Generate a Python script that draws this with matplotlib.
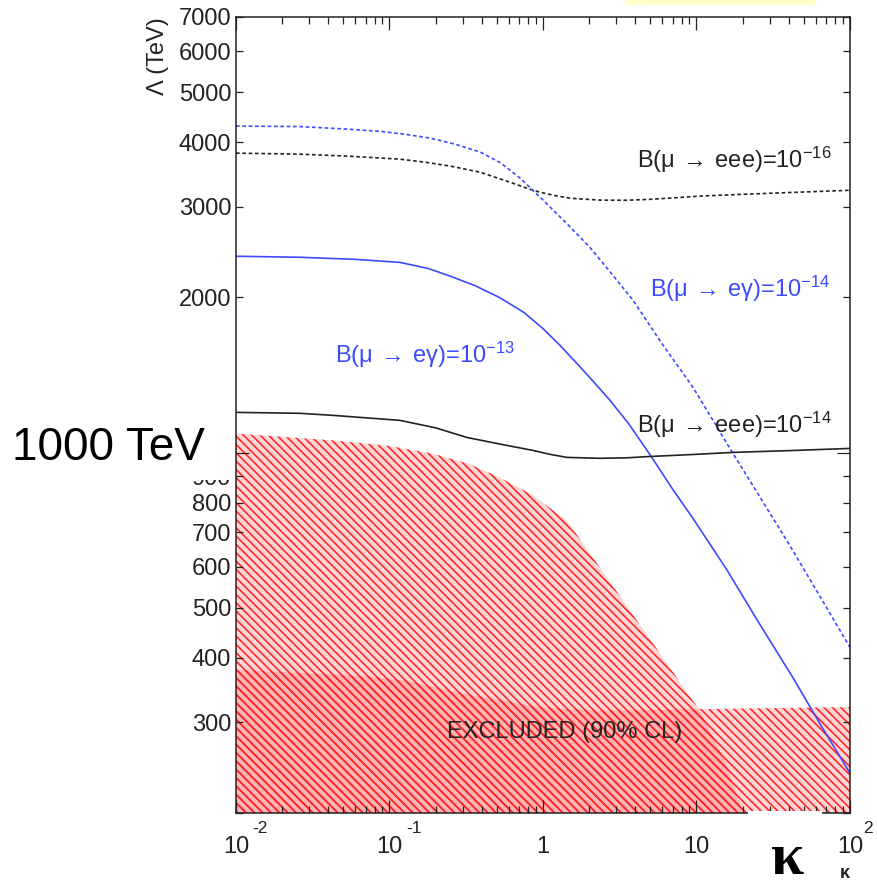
import numpy as np
import matplotlib.pyplot as plt
from matplotlib.patches import Rectangle
from matplotlib.ticker import FixedLocator, FuncFormatter, LogLocator, NullFormatter

plt.rcParams["font.family"] = ["Liberation Sans", "DejaVu Sans"]
plt.rcParams["mathtext.fontset"] = "dejavusans"
plt.rcParams["mathtext.default"] = "regular"
plt.rcParams["hatch.linewidth"] = 1.15

# --- sensitivity curves: kappa vs Lambda [TeV] ---
EEE16_K = [0.01, 0.026, 0.055, 0.117, 0.17, 0.25, 0.39, 0.61, 0.8, 0.95, 1.2, 1.5, 2.35,
           3.5, 5.0, 7.0, 10.5, 20, 32, 100]
EEE16_L = [3810, 3793, 3758, 3709, 3660, 3595, 3499, 3346, 3251, 3201, 3152, 3115, 3089,
           3087, 3100, 3119, 3145, 3170, 3187, 3228]

EG14_K = [0.01, 0.026, 0.05, 0.087, 0.13, 0.184, 0.27, 0.39, 0.53, 0.71, 1.0, 1.4, 2.02,
          2.8, 3.86, 6.0, 9.5, 17.3, 28, 40.6, 65, 100]
EG14_L = [4300, 4290, 4246, 4200, 4140, 4075, 3963, 3828, 3648, 3406, 3090, 2799, 2502,
          2223, 1975, 1622, 1338, 996, 790, 660, 521, 419]

EG13_K = [0.01, 0.026, 0.06, 0.117, 0.18, 0.25, 0.36, 0.52, 0.75, 1.0, 1.3, 1.7, 2.1,
          2.7, 3.6, 5.0, 7.0, 9.5, 15.8, 25, 42.5, 65, 100]
EG13_L = [2404, 2393, 2371, 2339, 2275, 2198, 2109, 2000, 1871, 1740, 1611, 1479, 1380,
          1268, 1140, 989, 849, 745, 592, 472, 366, 295, 239]

EEE14_K = [0.01, 0.026, 0.043, 0.117, 0.2, 0.32, 0.55, 0.86, 1.1, 1.43, 2.35, 3.5, 5.0,
           9.0, 17.3, 40, 100]
EEE14_L = [1197, 1192, 1181, 1155, 1117, 1070, 1036, 1010, 993, 979, 975, 977, 983,
           991, 1001, 1009, 1019]

# --- excluded regions (90% CL) ---
MEG_K = [0.01, 0.043, 0.1, 0.19, 0.33, 0.52, 0.85, 1.43, 2.35, 4.5, 10.5, 15.3, 20.7]
MEG_L = [1089, 1056, 1030, 996, 951, 895, 828, 738, 598, 454, 316, 253, 195]

SIND_K = [0.01, 0.067, 0.13, 0.30, 0.5, 0.82, 1.4, 2.35, 10.5, 100]
SIND_L = [379, 369, 361, 341, 332, 323, 318, 316, 318, 321]

XTICKS = [1e-2, 1e-1, 1, 10, 1e2]
XTICK_LABELS = ["10", "10", "1", "10", "10"]
XTICK_EXPONENTS = ["-2", "-1", "", "", "2"]
YTICKS_MINOR = [200, 300, 400, 500, 600, 700, 800, 900, 2000, 3000, 4000, 5000, 6000, 7000]

BLUE = "#3d4bff"
RED = "#ff2424"
INK = "#222222"

fig = plt.figure(figsize=(8.77, 8.88), dpi=100)
ax = fig.add_axes([0.2691, 0.0845, 0.7001, 0.8964])
ax.set_xscale("log")
ax.set_yscale("log")
ax.set_xlim(1e-2, 1e2)
ax.set_ylim(200, 7000)

hatch_kw = dict(facecolor=(1.0, 0.2, 0.2, 0.2), edgecolor=RED, hatch="\\\\\\\\", linewidth=0)
ax.fill_between(MEG_K, 150, MEG_L, zorder=1, **hatch_kw)
ax.fill_between(SIND_K, 150, SIND_L, zorder=1, **hatch_kw)

dash = (0, (2.2, 1.6))
ax.plot(EEE16_K, EEE16_L, color=INK, lw=1.2, ls=dash, zorder=3)
ax.plot(EG14_K, EG14_L, color=BLUE, lw=1.2, ls=dash, zorder=3)
ax.plot(EG13_K, EG13_L, color=BLUE, lw=1.2, zorder=3)
ax.plot(EEE14_K, EEE14_L, color=INK, lw=1.2, zorder=3)

fs = 17
arrow = r"$\,\rightarrow\,$"
ax.text(4.09, 3563, "B(μ" + arrow + r"eee)=10$^{-16}$", fontsize=fs, color=INK, va="baseline")
ax.text(4.98, 2001, "B(μ" + arrow + r"eγ)=10$^{-14}$", fontsize=fs, color=BLUE, va="baseline")
ax.text(0.0442, 1490, "B(μ" + arrow + r"eγ)=10$^{-13}$", fontsize=fs, color=BLUE, va="baseline")
ax.text(4.09, 1094, "B(μ" + arrow + r"eee)=10$^{-14}$", fontsize=fs, color=INK, va="baseline")
ax.text(1.38, 279, "EXCLUDED (90% CL)", fontsize=fs, color=INK, ha="center", va="baseline",
        zorder=4)

# axes, ticks
for sp in ax.spines.values():
    sp.set_linewidth(1.1)
    sp.set_color(INK)
    sp.set_zorder(5)
ax.tick_params(which="both", direction="in", top=True, right=True, color=INK, width=0.9,
               labelsize=fs, labelcolor=INK)
ax.tick_params(which="major", length=9.5)
ax.tick_params(which="minor", length=5)
ax.tick_params(axis="x", which="both", pad=16.5)
ax.tick_params(axis="y", which="both", pad=3.5)

ax.xaxis.set_major_locator(FixedLocator(XTICKS))
ax.set_xticklabels(XTICK_LABELS)
ax.xaxis.set_minor_locator(LogLocator(base=10, subs=np.arange(2, 10)))
ax.xaxis.set_minor_formatter(NullFormatter())
for tick, exp in zip(XTICKS, XTICK_EXPONENTS):
    if exp:
        ax.annotate(exp, xy=(tick, 0), xycoords=("data", "axes fraction"),
                    xytext=(9.5 if exp == "2" else 12, -14.4), textcoords="offset points",
                    fontsize=12.5, color=INK, ha="left", va="baseline", annotation_clip=False)

# the 1000 label sits under the "1000 TeV" overlay
ylab = FuncFormatter(lambda v, _: "%d" % round(v) if 300 <= v and v != 1000 else "")
ax.yaxis.set_major_locator(FixedLocator([1000]))
ax.yaxis.set_minor_locator(FixedLocator(YTICKS_MINOR))
ax.yaxis.set_major_formatter(ylab)
ax.yaxis.set_minor_formatter(ylab)

ax.text(-0.127, 1.0, "Λ (TeV)", transform=ax.transAxes, rotation=90, fontsize=fs,
        color=INK, ha="center", va="top")
ax.text(0.992, -0.0817, "κ", transform=ax.transAxes, fontsize=13, color=INK,
        ha="center", va="baseline", fontweight="bold")

# overlays on the figure
fig.add_artist(Rectangle((0.0, 0.4595), 0.2645, 0.085, transform=fig.transFigure,
                         facecolor="white", edgecolor="none", zorder=2))
fig.text(12 / 877, (888 - 460) / 888, "1000 TeV", fontsize=33, color="black",
         ha="left", va="baseline", zorder=3)
fig.add_artist(Rectangle((0.8529, 0.0), 0.0844, 0.0867, transform=fig.transFigure,
                         facecolor="white", edgecolor="none", zorder=2))
fig.text(787 / 877, (888 - 874) / 888, "κ", fontsize=43, fontweight="bold",
         family=["Liberation Serif", "DejaVu Serif"], color="black",
         ha="center", va="baseline", zorder=3)
fig.add_artist(Rectangle((625 / 877, 1 - 5 / 888), 190 / 877, 5 / 888, transform=fig.transFigure,
                         facecolor="#ffffcc", edgecolor="none", zorder=2))

fig.savefig("out.png", dpi=100)
